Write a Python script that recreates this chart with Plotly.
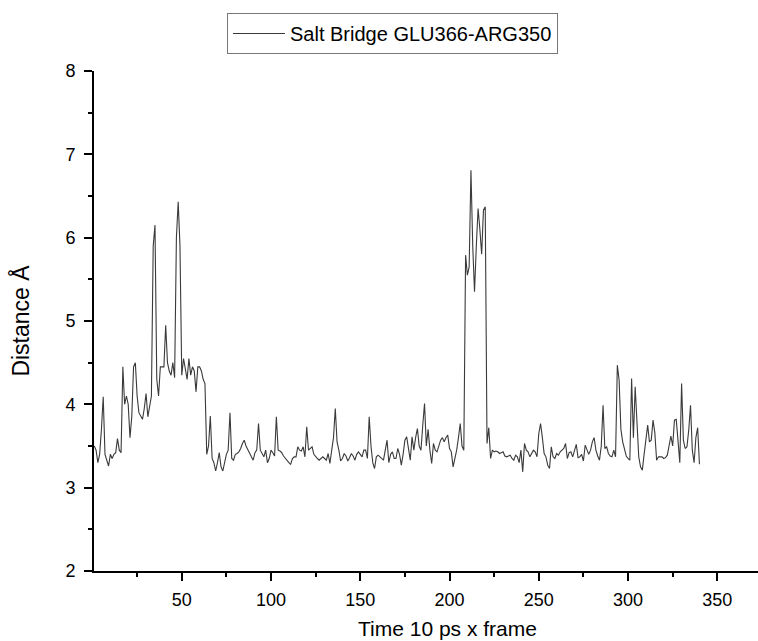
import plotly.graph_objects as go

# Frame index (Time 10 ps x frame)
frames = list(range(1, 341))

# Salt bridge distance GLU366-ARG350 (Å), one value per frame
distance = [
    3.50, 3.45, 3.30, 3.40, 3.70, 4.09, 3.40, 3.32, 3.26, 3.40,
    3.35, 3.40, 3.42, 3.59, 3.45, 3.42, 4.45, 4.00, 4.10, 4.00,
    3.60, 3.85, 4.45, 4.50, 4.10, 3.90, 3.85, 3.82, 3.95, 4.13,
    3.85, 4.00, 4.10, 5.90, 6.15, 4.30, 4.10, 4.45, 4.45, 4.45,
    4.95, 4.50, 4.40, 4.35, 4.50, 4.32, 6.00, 6.43, 5.90, 4.35,
    4.55, 4.40, 4.30, 4.55, 4.35, 4.45, 4.40, 4.15, 4.45, 4.45,
    4.40, 4.30, 4.25, 3.40, 3.50, 3.86, 3.35, 3.30, 3.20, 3.30,
    3.42, 3.25, 3.20, 3.30, 3.40, 3.45, 3.90, 3.35, 3.33, 3.40,
    3.41, 3.43, 3.47, 3.53, 3.57, 3.50, 3.45, 3.41, 3.37, 3.33,
    3.42, 3.45, 3.77, 3.45, 3.40, 3.37, 3.45, 3.30, 3.35, 3.45,
    3.42, 3.38, 3.85, 3.45, 3.44, 3.42, 3.38, 3.35, 3.33, 3.30,
    3.28, 3.35, 3.37, 3.37, 3.49, 3.45, 3.44, 3.49, 3.37, 3.73,
    3.45, 3.47, 3.49, 3.40, 3.37, 3.35, 3.33, 3.35, 3.37, 3.35,
    3.33, 3.41, 3.29, 3.45, 3.60, 3.95, 3.55, 3.45, 3.32, 3.35,
    3.41, 3.38, 3.32, 3.36, 3.41, 3.38, 3.33, 3.40, 3.43, 3.40,
    3.37, 3.45, 3.45, 3.35, 3.85, 3.50, 3.30, 3.23, 3.37, 3.39,
    3.37, 3.35, 3.33, 3.45, 3.57, 3.30, 3.40, 3.43, 3.35, 3.35,
    3.47, 3.40, 3.27, 3.40, 3.57, 3.61, 3.45, 3.33, 3.61, 3.45,
    3.60, 3.71, 3.50, 3.45, 3.75, 4.01, 3.50, 3.70, 3.45, 3.29,
    3.53, 3.45, 3.43, 3.50, 3.57, 3.60, 3.55, 3.60, 3.63, 3.47,
    3.43, 3.25, 3.35, 3.45, 3.60, 3.77, 3.50, 3.45, 5.79, 5.55,
    5.65, 6.81, 5.90, 5.35, 5.90, 6.35, 6.10, 5.80, 6.33, 6.37,
    3.53, 3.72, 3.35, 3.45, 3.43, 3.44, 3.43, 3.41, 3.42, 3.43,
    3.38, 3.37, 3.38, 3.39, 3.35, 3.33, 3.39, 3.37, 3.30, 3.45,
    3.19, 3.53, 3.45, 3.43, 3.37, 3.41, 3.45, 3.43, 3.37, 3.65,
    3.77, 3.60, 3.41, 3.37, 3.27, 3.23, 3.49, 3.37, 3.35, 3.41,
    3.39, 3.43, 3.45, 3.47, 3.53, 3.35, 3.42, 3.43, 3.37, 3.45,
    3.52, 3.36, 3.37, 3.40, 3.32, 3.51, 3.45, 3.40, 3.45, 3.55,
    3.60, 3.45, 3.38, 3.33, 3.50, 3.99, 3.47, 3.49, 3.41, 3.38,
    3.37, 3.45, 3.37, 4.47, 4.29, 3.70, 3.55, 3.45, 3.38, 3.35,
    3.33, 4.31, 3.60, 4.21, 3.69, 3.37, 3.25, 3.21, 3.40, 3.55,
    3.75, 3.55, 3.57, 3.81, 3.66, 3.33, 3.37, 3.37, 3.37, 3.35,
    3.36, 3.39, 3.52, 3.62, 3.50, 3.81, 3.82, 3.50, 3.30, 4.25,
    3.57, 3.47, 3.49, 3.69, 3.99, 3.45, 3.30, 3.60, 3.72, 3.28,
]

series_name = "Salt Bridge GLU366-ARG350"
x_title = "Time 10 ps x frame"
y_title = "Distance Å"

FONT = "Arial, 'Liberation Sans', sans-serif"

fig = go.Figure()
fig.add_trace(go.Scatter(
    x=frames, y=distance, mode="lines", name=series_name,
    line=dict(color="#3a3a3a", width=1.1),
))

axis_common = dict(
    showline=True, linecolor="black", linewidth=2,
    ticks="outside", ticklen=8, tickwidth=1.5, tickcolor="black",
    showgrid=False, zeroline=False, mirror=False,
    tickfont=dict(family=FONT, size=18, color="black"),
)

fig.update_layout(
    width=758, height=641,
    margin=dict(l=94, r=0, t=71, b=70),
    paper_bgcolor="white", plot_bgcolor="white",
    font=dict(family=FONT, color="black"),
    showlegend=True,
    legend=dict(
        x=0.2003, y=1.116, xanchor="left", yanchor="top",
        bordercolor="#777777", borderwidth=1, bgcolor="white",
        font=dict(family=FONT, size=20, color="black"),
        itemwidth=52,
    ),
    xaxis=dict(
        range=[0.84, 372.8], tick0=0, dtick=50,
        minor=dict(dtick=25, ticks="outside", ticklen=4, tickwidth=1.5, tickcolor="black"),
        ticklabelstandoff=3,
        **axis_common,
    ),
    yaxis=dict(
        range=[2, 8], tick0=0, dtick=1,
        minor=dict(dtick=0.5, ticks="outside", ticklen=4, tickwidth=1.5, tickcolor="black"),
        ticklabelstandoff=5,
        title=dict(text=y_title, font=dict(family=FONT, size=23, color="black"), standoff=29),
        **axis_common,
    ),
    annotations=[dict(
        text=x_title, xref="paper", yref="paper", x=0.533, y=-0.114,
        xanchor="center", yanchor="middle", showarrow=False,
        font=dict(family=FONT, size=21, color="black"),
    )],
)

fig.write_html("out.html")
